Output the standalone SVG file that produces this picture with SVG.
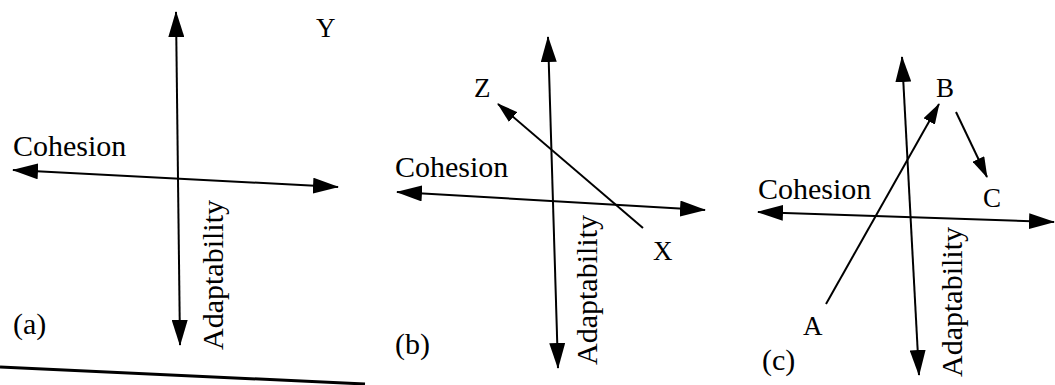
<svg xmlns="http://www.w3.org/2000/svg" width="1055" height="385" viewBox="0 0 1055 385">
<style>
.ln{stroke:#000;stroke-width:2;fill:none}
.ax{marker-start:url(#ah);marker-end:url(#ah)}
.one{marker-end:url(#ah2)}
.lab{font-family:"Liberation Serif","Times New Roman",serif;font-size:30px;fill:#000}
.let{font-family:"Liberation Serif","Times New Roman",serif;font-size:27px;fill:#000}
</style>
<defs>
<marker id="ah" markerUnits="userSpaceOnUse" markerWidth="26" markerHeight="16" refX="25" refY="8" orient="auto-start-reverse" viewBox="0 0 26 16">
<path d="M0,0 L26,8 L0,16 z" fill="#000"/>
</marker>
<marker id="ah2" markerUnits="userSpaceOnUse" markerWidth="21" markerHeight="13" refX="20" refY="6.5" orient="auto" viewBox="0 0 21 13">
<path d="M0,0 L21,6.5 L0,13 z" fill="#000"/>
</marker>
</defs>
<rect width="1055" height="385" fill="#fff"/>
<g id="connectors">
<line class="ln ax" x1="176" y1="12" x2="180" y2="345"/>
<line class="ln ax" x1="13" y1="170" x2="338" y2="187"/>
<line class="ln ax" x1="548" y1="37" x2="558" y2="368"/>
<line class="ln ax" x1="397" y1="192" x2="705" y2="210"/>
<line class="ln one" x1="643" y1="228" x2="498" y2="104"/>
<line class="ln ax" x1="902" y1="57" x2="919" y2="375"/>
<line class="ln ax" x1="758" y1="212" x2="1054" y2="222"/>
<line class="ln one" x1="826" y1="304" x2="939" y2="104"/>
<line class="ln one" x1="956" y1="112" x2="987" y2="177"/>
<line x1="0" y1="367" x2="365" y2="384" stroke="#000" stroke-width="3"/>
</g>
<g id="panel-a">
<text class="lab" x="13" y="156" font-size="31">Cohesion</text>
<text class="lab" transform="translate(223,350) rotate(-90)">Adaptability</text>
<text class="let" x="316" y="37">Y</text>
<text class="lab" x="13" y="334">(a)</text>
</g>
<g id="panel-b">
<text class="lab" x="395" y="177">Cohesion</text>
<text class="lab" transform="translate(597,365) rotate(-90)" font-size="29">Adaptability</text>
<text class="let" x="474" y="97">Z</text>
<text class="let" x="653" y="260">X</text>
<text class="lab" x="395" y="354">(b)</text>
</g>
<g id="panel-c">
<text class="lab" x="758" y="199" font-size="29">Cohesion</text>
<text class="lab" transform="translate(962,377) rotate(-90)" font-size="28">Adaptability</text>
<text class="let" x="936" y="97">B</text>
<text class="let" x="983" y="207">C</text>
<text class="let" x="803" y="335">A</text>
<text class="lab" x="762" y="370" font-size="27">(c)</text>
</g>
</svg>
